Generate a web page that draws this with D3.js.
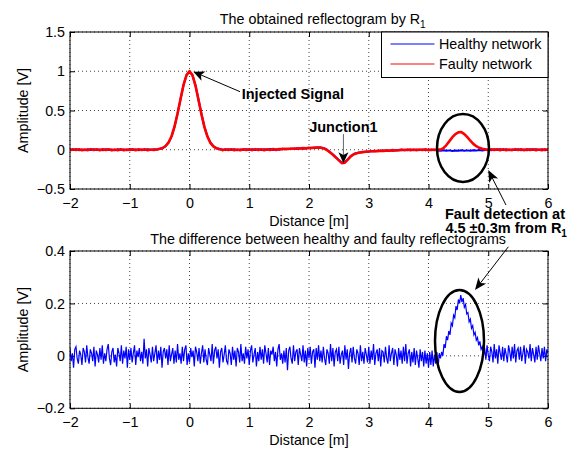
<!DOCTYPE html>
<html><head><meta charset="utf-8">
<script src="https://cdn.jsdelivr.net/npm/d3@7"></script>
<style>
body{margin:0;background:#fff}
svg{display:block}
text{font-family:"Liberation Sans",Arial,Helvetica,sans-serif;fill:#000}
</style>
</head><body>
<svg id="chart" width="574" height="449"></svg>
<script>
// ---------- data ----------
const xTicks = [-2, -1, 0, 1, 2, 3, 4, 5, 6];
const yTicksTop = [-0.5, 0, 0.5, 1, 1.5];
const yTicksBottom = [-0.2, 0, 0.2, 0.4];
const seriesNames = ["Healthy network", "Faulty network"];
const titles = ["The obtained reflectogram by R", "The difference between healthy and faulty reflectograms"];
const xStart = -2, topStep = 0.05, bottomStep = 0.02;

// reflectogram of the healthy network (every 0.05 m from -2 to 6)
const healthy = [
 0.005,-0.004,0.008,-0.006,0.003,-0.007,0.006,-0.003,0.007,-0.005,
 0.004,-0.006,0.007,-0.004,0.005,-0.008,0.006,-0.003,0.005,-0.006,
 0.007,-0.004,0.005,-0.007,0.004,-0.005,0.008,-0.003,0.005,0.002,
 0.01,0.02,0.045,0.09,0.17,0.295,0.46,0.645,0.825,0.95,1.0,0.95,0.82,0.64,0.455,0.29,0.17,0.09,0.045,0.02,0.01,
 0.004,-0.005,0.007,-0.004,0.006,-0.006,0.005,-0.003,0.008,-0.004,
 0.006,-0.003,0.008,-0.005,0.007,-0.002,0.009,-0.004,0.008,0.001,
 0.012,0.006,0.014,0.008,0.016,0.011,0.018,0.014,0.022,0.018,0.026,0.024,0.03,
 0.028,0.02,0.0,-0.03,-0.06,-0.095,-0.13,-0.165,-0.16,-0.12,-0.08,-0.055,-0.042,-0.034,-0.028,-0.024,-0.021,
 -0.016,-0.02,-0.013,-0.017,-0.01,-0.014,-0.008,-0.012,-0.006,
 -0.002,-0.008,0.001,-0.006,0.003,-0.007,0.002,-0.005,0.004,-0.008,0.001,-0.006,0.002,-0.009,
 -0.012,-0.006,-0.014,-0.008,-0.015,-0.009,-0.013,-0.007,-0.014,-0.008,-0.012,-0.006,-0.011,-0.004,-0.009,-0.002,
 0.004,-0.006,0.007,-0.004,0.008,-0.005,0.006,-0.007,0.005,-0.003,0.008,-0.006,0.004,-0.007,0.006,-0.004,0.008,-0.005,0.006,-0.006,0.005
];
// reflectogram of the faulty network (every 0.05 m from -2 to 6)
const faulty = [
 -0.006,0.005,-0.004,0.007,-0.007,0.004,-0.005,0.008,-0.004,0.006,
 -0.007,0.005,-0.003,0.006,-0.008,0.004,-0.005,0.007,-0.006,0.004,
 -0.004,0.006,-0.007,0.005,-0.004,0.007,-0.005,0.004,-0.002,0.003,
 0.012,0.022,0.048,0.093,0.172,0.297,0.462,0.647,0.826,0.952,1.0,0.948,0.818,0.638,0.452,0.288,0.168,0.088,0.043,0.018,0.008,
 -0.005,0.006,-0.004,0.007,-0.006,0.004,-0.005,0.007,-0.003,0.006,
 -0.005,0.008,-0.004,0.006,-0.006,0.007,-0.003,0.008,-0.002,0.009,
 0.008,0.013,0.01,0.016,0.012,0.018,0.015,0.021,0.018,0.025,0.022,0.028,0.027,
 0.026,0.017,-0.003,-0.033,-0.063,-0.1,-0.135,-0.17,-0.165,-0.125,-0.085,-0.058,-0.044,-0.036,-0.03,-0.026,-0.022,
 -0.02,-0.015,-0.018,-0.011,-0.015,-0.008,-0.012,-0.005,-0.009,
 -0.006,0.002,-0.007,0.003,-0.005,0.004,-0.006,0.003,-0.004,0.005,-0.005,0.003,-0.004,0.002,
 0.002,0.02,0.06,0.11,0.16,0.2,0.222,0.225,0.2,0.16,0.115,0.075,0.045,0.025,0.012,0.005,
 -0.005,0.006,-0.004,0.007,-0.006,0.005,-0.007,0.004,-0.005,0.008,-0.004,0.006,-0.006,0.005,-0.003,0.007,-0.005,0.004,-0.006,0.006,-0.004
];
// difference faulty - healthy (every 0.02 m from -2 to 6)
const difference = [
 0.03,-0.02,0.01,-0.045,0.025,0.035,-0.01,-0.03,0.02,0.005,
 -0.035,0.03,0.015,-0.025,0.04,-0.005,-0.03,0.025,0.01,-0.02,
 0.035,-0.04,0.02,0.005,-0.025,0.03,-0.015,0.04,-0.03,0.01,
 -0.02,0.025,0.045,-0.01,-0.035,0.015,0.03,-0.025,0.005,-0.04,
 0.03,0.01,-0.02,0.04,-0.03,0.02,-0.01,0.035,-0.045,0.025,
 -0.015,0.03,-0.025,0.01,0.04,-0.035,0.02,-0.005,0.03,-0.02,
 0.015,-0.03,0.065,-0.01,0.025,-0.04,0.03,0.005,-0.025,0.035,
 -0.02,0.01,0.04,-0.03,0.02,-0.015,0.035,-0.045,0.015,0.03,
 -0.01,0.025,-0.035,0.04,-0.02,0.005,0.03,-0.03,0.02,-0.025,
 0.045,-0.015,0.01,-0.03,0.035,-0.02,0.025,0.04,-0.035,0.01,
 -0.025,0.03,-0.005,0.02,-0.04,0.035,0.015,-0.02,0.03,-0.03,
 0.01,0.04,-0.025,0.025,-0.015,-0.035,0.03,0.005,-0.02,0.045,
 -0.03,0.02,0.035,-0.01,0.025,-0.045,0.015,0.03,-0.025,0.005,
 0.04,-0.02,-0.03,0.025,0.01,-0.035,0.035,-0.015,0.02,-0.04,
 0.03,0.015,-0.025,0.045,-0.02,0.01,-0.03,0.035,-0.01,0.025,
 -0.035,0.02,0.04,-0.025,0.005,0.03,-0.04,0.015,-0.02,0.035,
 -0.015,0.025,-0.03,0.04,0.01,-0.025,0.03,-0.035,0.02,0.005,
 0.035,-0.02,0.015,-0.04,0.025,0.045,-0.015,0.01,-0.03,0.02,
 -0.025,0.03,-0.055,0.02,0.035,-0.01,-0.03,0.04,-0.02,0.015,
 0.025,-0.035,0.03,0.005,-0.02,0.04,-0.025,0.02,-0.04,0.03,
 -0.01,0.035,-0.03,0.015,0.025,-0.045,0.03,-0.015,0.04,-0.02,
 0.02,-0.025,0.035,-0.01,-0.035,0.025,0.01,-0.03,0.045,-0.02,
 0.03,-0.04,0.015,0.025,-0.02,0.035,-0.03,0.005,0.02,-0.035,
 0.04,-0.015,0.025,-0.05,0.01,0.03,-0.025,0.035,-0.01,-0.03,
 0.025,0.01,-0.035,0.04,-0.02,0.015,-0.03,0.03,0.005,-0.025,
 0.035,-0.03,0.02,-0.015,0.045,-0.035,0.01,0.025,-0.02,0.03,
 -0.04,0.02,0.015,-0.025,0.035,-0.01,-0.03,0.04,-0.02,0.01,
 0.03,-0.035,0.025,0.005,-0.04,0.03,-0.015,0.02,-0.03,0.035,
 -0.02,0.045,-0.03,0.01,0.025,-0.04,0.015,-0.025,0.03,-0.035,
 0.02,-0.01,-0.045,0.025,-0.02,0.015,-0.04,0.02,-0.03,0.01,
 -0.045,0.015,-0.035,0.02,-0.04,0.005,-0.03,0.015,-0.045,0.01,
 -0.01,0.015,0.0,0.045,0.03,0.075,0.06,0.095,0.08,0.125,
 0.115,0.155,0.145,0.19,0.175,0.215,0.2,0.232,0.205,0.22,
 0.185,0.195,0.16,0.165,0.13,0.14,0.105,0.115,0.08,0.09,
 0.06,0.07,0.04,0.055,0.025,0.035,0.0,
 0.03,-0.015,0.04,0.005,-0.02,0.035,0.015,-0.025,0.045,-0.01,
 0.025,-0.03,0.04,0.01,-0.015,0.035,-0.02,0.03,0.005,-0.025,
 0.04,0.015,-0.02,0.035,-0.01,0.045,-0.025,0.02,0.03,-0.015,
 0.035,-0.02,0.01,0.04,-0.03,0.025,0.015,-0.01,0.045,-0.02,
 0.03,0.005,-0.025,0.035,-0.015,0.04,0.01,-0.02,0.03,-0.01,
 0.035,-0.02,0.025,0.01
];

// ---------- layout ----------
const svg = d3.select("#chart");
const L = 70, R = 548;
const topBox = {t: 32, b: 189};
const botBox = {t: 251, b: 408.3};
const FS = 14.3;

const x = d3.scaleLinear().domain([-2, 6]).range([L, R]);
const yTop = d3.scaleLinear().domain([-0.5, 1.5]).range([topBox.b, topBox.t]);
const yBot = d3.scaleLinear().domain([-0.2, 0.4]).range([botBox.b, botBox.t]);
const fmt = d3.format("");

function panel(y, box, yTicks, id) {
  const g = svg.append("g");
  g.append("g").selectAll("line").data(xTicks).join("line")
    .attr("x1", d => x(d)).attr("x2", d => x(d)).attr("y1", box.t).attr("y2", box.b)
    .attr("stroke", "#444").attr("stroke-width", 1).attr("stroke-dasharray", "1,3");
  g.append("g").selectAll("line").data(yTicks).join("line")
    .attr("x1", L).attr("x2", R).attr("y1", d => y(d)).attr("y2", d => y(d))
    .attr("stroke", "#444").attr("stroke-width", 1).attr("stroke-dasharray", "1,3");
  const ax = g.append("g").attr("transform", `translate(0,${box.b})`)
    .call(d3.axisBottom(x).tickValues(xTicks).tickFormat(fmt).tickSize(-5).tickSizeOuter(0).tickPadding(8.5));
  const axT = g.append("g").attr("transform", `translate(0,${box.t})`)
    .call(d3.axisTop(x).tickValues(xTicks).tickFormat("").tickSize(-5).tickSizeOuter(0));
  const ay = g.append("g").attr("transform", `translate(${L},0)`)
    .call(d3.axisLeft(y).tickValues(yTicks).tickFormat(fmt).tickSize(-5).tickSizeOuter(0).tickPadding(5));
  const ayR = g.append("g").attr("transform", `translate(${R},0)`)
    .call(d3.axisRight(y).tickValues(yTicks).tickFormat("").tickSize(-5).tickSizeOuter(0));
  [ax, axT, ay, ayR].forEach(a => {
    a.select(".domain").remove();
    a.selectAll("line").attr("stroke", "#000");
    a.selectAll("text").attr("font-size", FS).attr("font-family", '"Liberation Sans",Arial,sans-serif').attr("fill", "#000");
  });
  svg.append("clipPath").attr("id", id).append("rect")
    .attr("x", L).attr("y", box.t).attr("width", R - L).attr("height", box.b - box.t);
  svg.append("text").attr("x", x(2)).attr("y", box.b + 37).attr("text-anchor", "middle")
    .attr("font-size", FS).text("Distance [m]");
  svg.append("text").attr("transform", `translate(27.5,${(box.t + box.b) / 2}) rotate(-90)`)
    .attr("text-anchor", "middle").attr("font-size", FS).text("Amplitude [V]");
  return g;
}

panel(yTop, topBox, yTicksTop, "clipTop");
panel(yBot, botBox, yTicksBottom, "clipBot");

// ---------- series ----------
const lineTop = d3.line().x((d, i) => x(xStart + i * topStep)).y(d => yTop(d));
const lineBot = d3.line().x((d, i) => x(xStart + i * bottomStep)).y(d => yBot(d));

const dataG = svg.append("g").attr("clip-path", "url(#clipTop)");
dataG.append("path").datum(healthy).attr("d", lineTop)
  .attr("fill", "none").attr("stroke", "#0000ff").attr("stroke-width", 2).attr("stroke-linejoin", "round");
dataG.append("path").datum(faulty).attr("d", lineTop)
  .attr("fill", "none").attr("stroke", "#ff0000").attr("stroke-width", 2.6).attr("stroke-linejoin", "round");

svg.append("g").attr("clip-path", "url(#clipBot)")
  .append("path").datum(difference).attr("d", lineBot)
  .attr("fill", "none").attr("stroke", "#0000ff").attr("stroke-width", 1.2);

[topBox, botBox].forEach(b => svg.append("rect").attr("x", L).attr("y", b.t)
  .attr("width", R - L).attr("height", b.b - b.t).attr("fill", "none").attr("stroke", "#000").attr("stroke-width", 1));

// ---------- titles ----------
const t1 = svg.append("text").attr("x", x(2.23)).attr("y", 24).attr("text-anchor", "middle").attr("font-size", FS);
t1.append("tspan").text(titles[0]);
t1.append("tspan").attr("font-size", 10).attr("dy", 4).text("1");
svg.append("text").attr("x", x(2.32)).attr("y", 244).attr("text-anchor", "middle").attr("font-size", FS).text(titles[1]);

// ---------- legend ----------
const lg = svg.append("g");
lg.append("rect").attr("x", 381.5).attr("y", 32).attr("width", R - 381.5).attr("height", 45.5)
  .attr("fill", "#fff").attr("stroke", "#000").attr("stroke-width", 1);
const legColors = ["#0000ff", "#ff0000"];
seriesNames.forEach((n, i) => {
  const yy = 44 + i * 20;
  lg.append("line").attr("x1", 390.5).attr("x2", 434.5).attr("y1", yy).attr("y2", yy)
    .attr("stroke", legColors[i]).attr("stroke-width", 1);
  lg.append("text").attr("x", 439).attr("y", yy + 5).attr("font-size", FS).text(n);
});

// ---------- annotations ----------
function arrow(x1, y1, x2, y2, len, w, lineColor) {
  const dx = x2 - x1, dy = y2 - y1, d = Math.hypot(dx, dy);
  const ux = dx / d, uy = dy / d, nx = -uy, ny = ux;
  const bx = x2 - len * ux, by = y2 - len * uy;
  const kx = x2 - 0.75 * len * ux, ky = y2 - 0.75 * len * uy;
  svg.append("line").attr("x1", x1).attr("y1", y1).attr("x2", kx).attr("y2", ky)
    .attr("stroke", lineColor || "#000").attr("stroke-width", 1);
  svg.append("path").attr("d", `M${x2},${y2}L${bx + w * nx},${by + w * ny}L${kx},${ky}L${bx - w * nx},${by - w * ny}Z`)
    .attr("fill", "#000");
}
function ellipse(cx, cy, rx, ry) {
  svg.append("ellipse").attr("cx", cx).attr("cy", cy).attr("rx", rx).attr("ry", ry)
    .attr("fill", "none").attr("stroke", "#000").attr("stroke-width", 2.5);
}

arrow(x(0.845), yTop(0.74), x(0.064), yTop(0.994), 11, 5);
svg.append("text").attr("x", x(0.874)).attr("y", yTop(0.643)).attr("font-size", 14.5)
  .attr("font-weight", "bold").text("Injected Signal");
svg.append("text").attr("x", x(2.576)).attr("y", yTop(0.23)).attr("text-anchor", "middle")
  .attr("font-size", 14.5).attr("font-weight", "bold").text("Junction1");
arrow(x(2.576), yTop(0.2), x(2.576), yTop(-0.173), 11, 5, "#666");
ellipse(x(4.577), yTop(0.022), x(4.577 + 0.435) - x(4.577), yTop(0) - yTop(0.433));
ellipse(x(4.519), yBot(0.0567), x(4.519 + 0.41) - x(4.519), yBot(0) - yBot(0.1945));
arrow(x(5.297), yTop(-0.704), x(5.0), yTop(-0.258), 12, 5);
arrow(x(5.336), yBot(0.416), x(4.778), yBot(0.251), 12, 5);
const ft = svg.append("g").attr("font-size", 14.5).attr("font-weight", "bold");
ft.append("text").attr("x", x(5.28)).attr("y", yTop(-0.886)).attr("text-anchor", "middle").text("Fault detection at");
const ft2 = ft.append("text").attr("x", x(5.3)).attr("y", yTop(-1.064)).attr("text-anchor", "middle");
ft2.append("tspan").text("4.5 ±0.3m from R");
ft2.append("tspan").attr("font-size", 10).attr("dy", 4).text("1");
</script>
</body></html>
